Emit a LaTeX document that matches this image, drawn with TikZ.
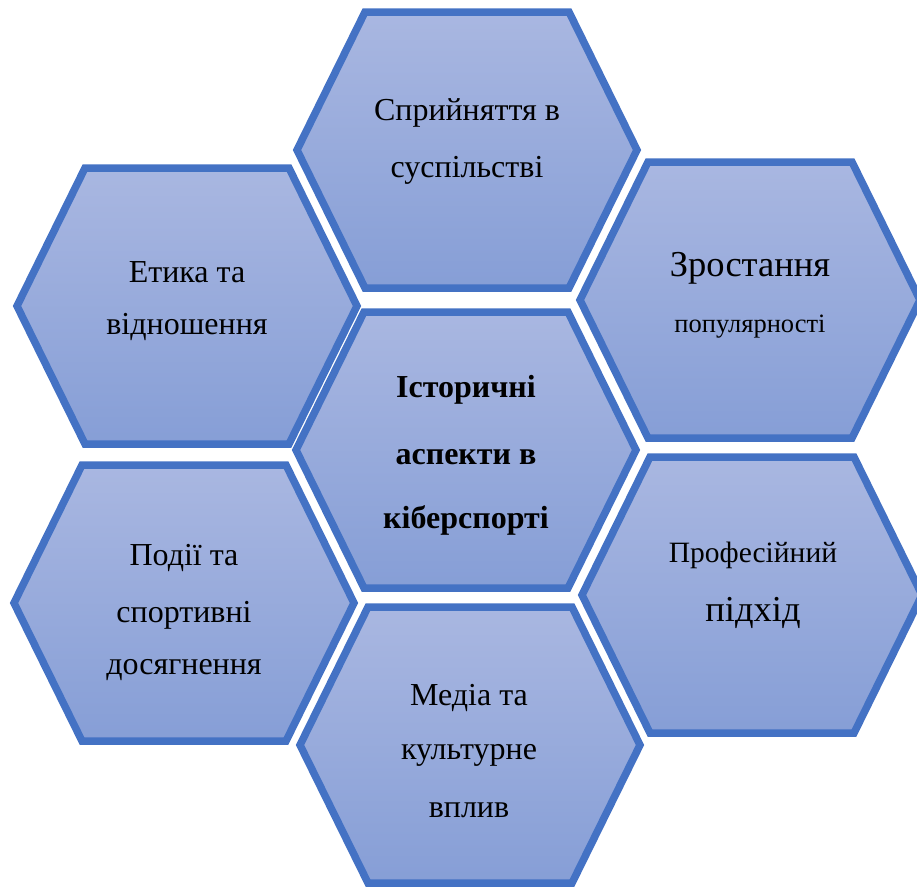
\documentclass[tikz,border=0pt]{standalone}
\usepackage{fontspec}
\setmainfont{Liberation Serif}
\definecolor{hexedge}{RGB}{68,114,196}
\definecolor{hextop}{RGB}{169,183,225}
\definecolor{hexbot}{RGB}{134,158,214}
\begin{document}
\begin{tikzpicture}[x=1pt,y=-1pt,
  hexcell/.style={draw=hexedge, line width=7.5pt, top color=hextop, bottom color=hexbot},
  lbl/.style={inner sep=0pt, text=black, font=\fontsize{32}{36}\selectfont},
  lblbig/.style={lbl, font=\fontsize{36.5}{40}\selectfont},
  lblsmall/.style={lbl, font=\fontsize{26.5}{30}\selectfont},
  lblprof/.style={lbl, font=\fontsize{29.5}{34}\selectfont},
  lblbold/.style={lbl, font=\fontsize{32}{36}\selectfont\bfseries},
  hexa/.pic={\draw[hexcell] (-170,0) -- (-102,-138) -- (102,-138) -- (170,0) -- (102,138) -- (-102,138) -- cycle;}]
\useasboundingbox (0,0) rectangle (917,886);
\clip (0,0) rectangle (917,886);
% hexagons
\pic at (467,150) {hexa};
\pic at (187,306) {hexa};
\pic at (750,300) {hexa};
\pic at (466,450) {hexa};
\pic at (184,603) {hexa};
\pic at (752,595) {hexa};
\pic at (470,745) {hexa};
% labels
\node[lbl] (topA) at (467,113) {Сприйняття в};
\node[lbl] (topB) at (467,170) {суспільстві};
\node[lbl] (ltA) at (187,272) {Етика та};
\node[lbl] (ltB) at (187,327) {відношення};
\node[lblbig] (rtA) at (750,268) {Зростання};
\node[lblsmall] (rtB) at (750,327) {популярності};
\node[lblbold] (cA) at (466,390) {Історичні};
\node[lblbold] (cB) at (466,457) {аспекти в};
\node[lblbold] (cC) at (466,520) {кіберспорті};
\node[lbl] (lbA) at (184,558) {Події та};
\node[lbl] (lbB) at (184,615) {спортивні};
\node[lbl] (lbC) at (184,670) {досягнення};
\node[lblprof] (rbA) at (753,555) {Професійний};
\node[lblbig] (rbB) at (753,613) {підхід};
\node[lbl] (bA) at (469,698) {Медіа та};
\node[lbl] (bB) at (469,755) {культурне};
\node[lbl] (bC) at (469,810) {вплив};
\end{tikzpicture}
\end{document}
